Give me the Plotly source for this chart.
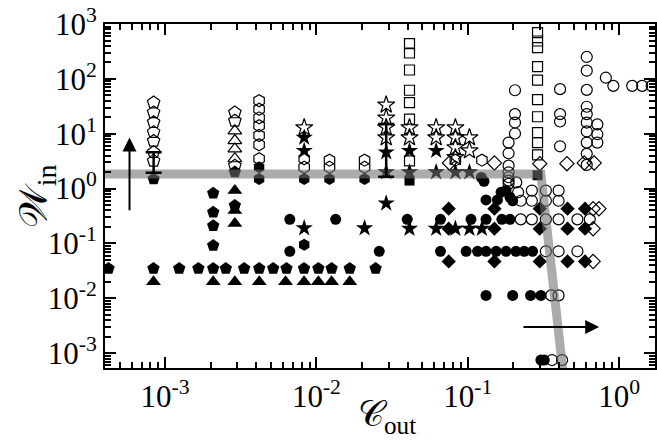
import numpy as np
import plotly.graph_objects as go

# ---------------- data ----------------
# open pentagons
po_x = [8.4e-4, 8.4e-4, 8.4e-4, 8.4e-4, 8.4e-4, 8.4e-4, 8.4e-4, 2.89e-3, 2.89e-3, 2.89e-3]
po_y = [37, 24.5, 16.2, 10.7, 7.4, 4.6, 3.2, 24.4, 17.2, 2.6]
# filled pentagons
pf_x = [8.4e-4, 2.89e-3, 2.08e-3, 2.08e-3, 2.08e-3, 2.08e-3, 2.89e-3,
        4.23e-4, 8.38e-4, 1.24e-3, 1.66e-3, 2.08e-3, 2.52e-3, 3.33e-3, 4.19e-3,
        5.18e-3, 6.34e-3, 8.28e-3, 1.03e-2, 1.26e-2, 1.66e-2, 2.46e-2]
pf_y = [1.5, 2.0, 0.82, 0.37, 0.21, 0.092, 0.49,
        0.035, 0.035, 0.035, 0.035, 0.035, 0.035, 0.035, 0.035,
        0.035, 0.035, 0.035, 0.035, 0.035, 0.035, 0.035]
# open triangles
to_x = [2.89e-3, 2.89e-3, 2.89e-3, 2.89e-3]
to_y = [11.3, 7.5, 5.3, 3.5]
# filled triangles
tf_x = [2.89e-3, 2.89e-3, 2.89e-3,
        8.38e-4, 2.08e-3, 2.89e-3, 4.19e-3, 6.25e-3, 8.28e-3, 1.03e-2, 1.26e-2, 1.66e-2]
tf_y = [0.92, 0.40, 0.23,
        0.02, 0.02, 0.02, 0.02, 0.02, 0.02, 0.02, 0.02, 0.02]
# open hexagons
ho_x = [4.18e-3, 4.18e-3, 4.18e-3, 4.18e-3, 4.18e-3, 4.18e-3, 4.18e-3,
        8.3e-3, 8.3e-3, 1.22e-2, 1.22e-2, 2.08e-2, 2.08e-2, 0.0828, 0.124]
ho_y = [40, 28, 19.5, 14, 9.3, 6.3, 3.5,
        3.5, 2.45, 3.3, 2.45, 3.3, 2.45, 3.3, 3.3]
# filled hexagons
hf_x = [4.18e-3, 4.18e-3, 8.3e-3, 1.22e-2, 2.08e-2, 8.3e-3]
hf_y = [2.45, 1.5, 1.5, 1.5, 1.5, 0.095]
# open stars
so_x = [8.3e-3, 0.0289, 0.0289, 0.0289, 0.0289, 0.0412, 0.0412, 0.0618, 0.0618,
        0.0828, 0.0828, 0.0828, 0.0828, 0.1026, 0.1026]
so_y = [12.9, 33.6, 19.4, 13, 8.5, 12.9, 8.5, 12.9, 8.5,
        12.9, 8.5, 5.6, 3.7, 8.5, 4.9]
# filled stars
sf_x = [8.3e-3, 8.3e-3, 8.3e-3, 2.08e-2, 0.0289, 0.0289, 0.0289, 0.0412, 0.0412,
        0.0618, 0.0618, 0.0828, 0.1026, 0.0412, 0.0618, 0.0828, 0.1026, 0.124]
sf_y = [8.5, 4.9, 0.19, 0.19, 4.6, 2.0, 0.54, 4.9, 2.0,
        4.9, 2.0, 2.0, 2.0, 0.186, 0.186, 0.186, 0.186, 0.186]
# open squares
qo_x = [0.0412, 0.0412, 0.0412, 0.0412, 0.0412, 0.0412, 0.0412,
        0.289, 0.289, 0.289, 0.289, 0.289, 0.289, 0.289, 0.289, 0.289, 0.289]
qo_y = [437, 296, 145, 62, 37, 18.5, 3.2,
        694, 490, 371, 167, 95, 41.7, 20.4, 10.5, 6.9, 4.1]
# filled squares
qf_x = [0.0412, 0.289]
qf_y = [1.4, 1.75]
# open diamonds
do_x = [0.0757, 0.150, 0.299, 0.452, 0.588, 0.684, 0.673, 0.736, 0.673, 0.673]
do_y = [2.94, 2.94, 2.85, 2.85, 2.94, 2.94, 0.43, 0.43, 0.186, 0.047]
# filled diamonds
df_x = [0.0748, 0.15, 0.299, 0.456, 0.595,
        0.0748, 0.15, 0.299, 0.456, 0.595,
        0.0748, 0.15, 0.299, 0.456, 0.595]
df_y = [0.43, 0.43, 0.43, 0.43, 0.43,
        0.186, 0.186, 0.186, 0.186, 0.186,
        0.047, 0.047, 0.047, 0.047, 0.047]
# open circles
co_x = [0.205, 0.205, 0.205, 0.205,
        0.186, 0.186, 0.186, 0.186, 0.186, 0.186, 0.186,
        0.407, 0.407, 0.407, 0.407,
        0.611, 0.611, 0.611, 0.611, 0.611, 0.611, 0.611, 0.611, 0.611, 0.611,
        0.718, 0.718, 0.718,
        0.817, 0.916, 1.22, 1.42, 1.64,
        0.209,
        0.215, 0.265, 0.328, 0.398,
        0.224, 0.265, 0.328, 0.398,
        0.224, 0.265, 0.328, 0.398, 0.53, 0.64,
        0.328, 0.398, 0.53,
        0.356, 0.398,
        0.36, 0.42]
co_y = [62, 22.8, 16, 10.1,
        6.9, 4.4, 2.62, 1.98, 1.61, 1.40, 1.22,
        65, 22.8, 16.7, 5.9,
        251, 141, 63, 31, 22.8, 16, 11, 6.9, 4.3, 2.7,
        14.8, 9.8, 6.9,
        105, 74.6, 74.6, 74.6, 74.6,
        1.3,
        0.86, 0.92, 0.92, 0.92,
        0.6, 0.6, 0.6, 0.6,
        0.275, 0.275, 0.275, 0.275, 0.275, 0.275,
        0.072, 0.072, 0.072,
        0.0113, 0.0113,
        7.5e-4, 7.5e-4]
# filled circles
cf_x = [6.67e-3, 0.0134, 6.67e-3, 0.026,
        0.0398, 0.066, 0.105, 0.132, 0.168, 0.19,
        0.066, 0.0975, 0.116, 0.132, 0.154, 0.179, 0.208, 0.236, 0.268,
        0.132, 0.198, 0.26, 0.304,
        0.304, 0.32,
        0.123, 0.128, 0.132, 0.157, 0.166, 0.179, 0.19, 0.198]
cf_y = [0.275, 0.275, 0.072, 0.072,
        0.275, 0.275, 0.275, 0.275, 0.275, 0.275,
        0.072, 0.072, 0.072, 0.072, 0.072, 0.072, 0.072, 0.072, 0.072,
        0.0113, 0.0113, 0.0113, 0.0113,
        7.5e-4, 7.5e-4,
        1.6, 1.36, 0.62, 0.62, 0.86, 0.92, 0.695, 0.6]

# error bars (centre, upper, lower)
err_x = [8.4e-4, 0.0289]
err_y = [3.0, 5.0]
err_up = [1.6, 10.0]
err_dn = [1.05, 3.35]

# grey threshold guide
guide_x = [1e-4, 0.304, 0.453]
guide_y = [1.84, 1.84, 1e-4]

# arrows: (tail, head)
arrow_v = dict(x=5.82e-4, y0=0.38, y1=8.5)
arrow_h = dict(y=3.0e-3, x0=0.228, x1=0.738)

# ticks
x_tick_vals = [1e-3, 1e-2, 1e-1, 1e0]
x_tick_text = ["10<sup>-3</sup>", "10<sup>-2</sup>", "10<sup>-1</sup>", "10<sup>0</sup>"]
y_tick_vals = [1e-3, 1e-2, 1e-1, 1e0, 1e1, 1e2, 1e3]
y_tick_text = ["10<sup>-3</sup>", "10<sup>-2</sup>", "10<sup>-1</sup>", "10<sup>0</sup>",
               "10<sup>1</sup>", "10<sup>2</sup>", "10<sup>3</sup>"]

minor_x = [m * 10.0 ** e for e in range(-4, 1) for m in range(2, 10)]
minor_y = [m * 10.0 ** e for e in range(-4, 3) for m in range(2, 10)]

# ---------------- figure ----------------
fig = go.Figure()

def add(xs, ys, symbol, size, filled):
    fig.add_trace(go.Scatter(
        x=xs, y=ys, mode="markers", showlegend=False, cliponaxis=True,
        marker=dict(symbol=symbol, size=size,
                    color="black",
                    line=dict(color="black", width=1.2 if not filled else 0))))

add(po_x, po_y, "pentagon-open", 13, False)
add(to_x, to_y, "triangle-up-open", 12, False)
add(ho_x, ho_y, "hexagon-open", 12, False)
add(so_x, so_y, "star-open", 13, False)
add(qo_x, qo_y, "square-open", 10, False)
add(do_x, do_y, "diamond-open", 11, False)
add(co_x, co_y, "circle-open", 11, False)
add(pf_x, pf_y, "pentagon", 13, True)
add(tf_x, tf_y, "triangle-up", 13, True)
add(hf_x, hf_y, "hexagon", 12, True)
add(sf_x, sf_y, "star", 13, True)
add(qf_x, qf_y, "square", 10, True)
add(df_x, df_y, "diamond", 11, True)
add(cf_x, cf_y, "circle", 11, True)

fig.add_trace(go.Scatter(x=guide_x, y=guide_y, mode="lines", showlegend=False,
                         line=dict(color="rgba(110,110,110,0.58)", width=9)))

fig.add_trace(go.Scatter(
    x=err_x, y=err_y, mode="markers", showlegend=False,
    marker=dict(size=1, color="rgba(0,0,0,0)"),
    error_y=dict(type="data", symmetric=False, array=err_up, arrayminus=err_dn,
                 color="black", thickness=2.5, width=8)))

arrow_common = dict(xref="x", yref="y", axref="x", ayref="y", text="",
                    showarrow=True, arrowhead=2, arrowsize=1.4, arrowwidth=2,
                    arrowcolor="black")
fig.add_annotation(x=np.log10(arrow_v["x"]), y=np.log10(arrow_v["y1"]),
                   ax=np.log10(arrow_v["x"]), ay=np.log10(arrow_v["y0"]), **arrow_common)
fig.add_annotation(x=np.log10(arrow_h["x1"]), y=np.log10(arrow_h["y"]),
                   ax=np.log10(arrow_h["x0"]), ay=np.log10(arrow_h["y"]), **arrow_common)

serif = "Liberation Serif, Times New Roman, serif"
fig.add_annotation(xref="paper", yref="paper", x=0.513, y=-0.14,
                   text="𝒞<sub>out</sub>", showarrow=False,
                   font=dict(family=serif, size=36, color="black"),
                   xanchor="center", yanchor="middle")
fig.add_annotation(xref="paper", yref="paper", x=-0.125, y=0.5,
                   text="𝒲<sub>in</sub>", showarrow=False, textangle=-90,
                   font=dict(family=serif, size=40, color="black"),
                   xanchor="center", yanchor="middle")

axis_common = dict(type="log", showline=True, linecolor="black", linewidth=2,
                   mirror="ticks", ticks="inside", ticklen=11, tickwidth=2,
                   tickcolor="black", showgrid=False, zeroline=False,
                   tickmode="array", automargin=False,
                   tickfont=dict(family=serif, size=31, color="black"))
fig.update_xaxes(range=[-3.397, 0.237], tickvals=x_tick_vals, ticktext=x_tick_text,
                 minor=dict(tickmode="array", tickvals=minor_x, ticks="inside",
                            ticklen=6, tickwidth=1.5, tickcolor="black", showgrid=False),
                 **axis_common)
fig.update_yaxes(range=[-3.27, 3.0], tickvals=y_tick_vals, ticktext=y_tick_text,
                 minor=dict(tickmode="array", tickvals=minor_y, ticks="inside",
                            ticklen=6, tickwidth=1.5, tickcolor="black", showgrid=False),
                 **axis_common)

fig.update_layout(width=657, height=443, paper_bgcolor="white", plot_bgcolor="white",
                  margin=dict(l=105, r=2, t=24, b=75, autoexpand=False), showlegend=False)

fig.write_html("out.html", config={"displayModeBar": False},
               post_script="document.body.style.margin='0';document.body.style.overflow='hidden';")
